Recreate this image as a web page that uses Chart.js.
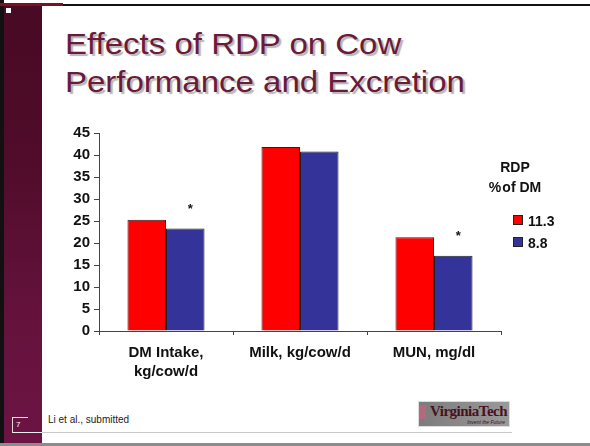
<!DOCTYPE html>
<html>
<head>
<meta charset="utf-8">
<script src="https://cdn.jsdelivr.net/npm/chart.js@4.4.1/dist/chart.umd.min.js"></script>
<style>
  html, body { margin: 0; padding: 0; background: #fff; }
  body { width: 590px; height: 446px; position: relative; overflow: hidden;
         font-family: "Liberation Sans", Arial, sans-serif; }
  .abs { position: absolute; }
  #strip { left: 4px; top: 6px; width: 38px; height: 437px;
           background: linear-gradient(180deg, #480a24 0%, #500c2a 35%, #64123c 70%, #6c1444 100%); }
  #blackEdge { left: 0; top: 0; width: 4px; height: 446px; background: #111; }
  #topLine { left: 0; top: 4px; width: 590px; height: 2px; background: #111; }
  #topRed { left: 0; top: 3px; width: 63px; height: 3px; background: #7a1020; }
  #dot { left: 6px; top: 8px; width: 5px; height: 5px; background: #fff; }
  #bottomLine { left: 0; top: 443px; width: 590px; height: 3px; background: #8c8c8c; }
  #title { left: 65px; top: 25px; font-size: 30px; line-height: 38px; color: #6b1a3a;
           text-shadow: 2px 2px 1px #b5b5b5; white-space: nowrap;
           transform: scaleX(1.1); transform-origin: 0 0; }
  #chartBox { left: 50px; top: 120px; width: 460px; height: 270px; }
  #legTitle { left: 470px; top: 157px; width: 90px; text-align: center; font-weight: bold;
              font-size: 14px; line-height: 20px; color: #111; }
  .legItem { left: 513px; font-weight: bold; font-size: 14px; color: #111; white-space: nowrap; }
  .legItem span { display: inline-block; width: 8px; height: 8px; border: 1px solid #222;
                  margin-right: 5px; vertical-align: 1px; }
  #footLine { left: 42px; top: 432px; width: 470px; height: 1px; background: #c8c8c8; }
  #pageBox { left: 12px; top: 417px; width: 16px; height: 16px; border-top: 1px solid #ddd;
             border-left: 1px solid #ddd; color: #fff; font-size: 8px; padding: 2px 0 0 3px; box-sizing: border-box; }
  #pageLine { left: 12px; top: 432px; width: 30px; height: 1px; background: #eee; }
  #foot { left: 48px; top: 414px; font-size: 10px; color: #222; }
  #logo { left: 418px; top: 401px; width: 92px; height: 26px; border: 1px solid #ddd;
          background: linear-gradient(90deg, #7c7c7c, #9a9a9a); overflow: hidden; box-sizing: border-box; }
  #logo .mark { position: absolute; left: 0; top: 3px; width: 7px; height: 14px; background: #b46a7c; }
  #logo .vt { position: absolute; left: 11px; top: 1px; font-family: "Liberation Serif", serif;
              font-weight: bold; font-size: 15px; color: #4a1020; letter-spacing: -0.5px; }
  #logo .sub { position: absolute; right: 4px; top: 17px; font-size: 5px; font-style: italic; color: #3a1018; }
</style>
</head>
<body>
<div id="strip" class="abs"></div>
<div id="blackEdge" class="abs"></div>
<div id="topLine" class="abs"></div>
<div id="topRed" class="abs"></div>
<div id="dot" class="abs"></div>
<div id="bottomLine" class="abs"></div>

<div id="title" class="abs">Effects of RDP on Cow<br>Performance and Excretion</div>

<div id="chartBox" class="abs"><canvas id="rdpChart"></canvas></div>

<div id="legTitle" class="abs">RDP<br>%&#8202;of DM</div>
<div id="legend"></div>

<div id="footLine" class="abs"></div>
<div id="pageLine" class="abs"></div>
<div id="pageBox" class="abs">7</div>
<div id="foot" class="abs">Li et al., submitted</div>
<div id="logo" class="abs"><div class="mark"></div><div class="vt">VirginiaTech</div><div class="sub">Invent the Future</div></div>

<script>
// Dati
const categories = [['DM Intake,', 'kg/cow/d'], 'Milk, kg/cow/d', 'MUN, mg/dl'];
const seriesNames = ['11.3', '8.8'];
const highRdp = [25.3, 41.8, 21.3];
const lowRdp = [23.3, 40.8, 17.1];
const significant = [true, false, true]; // asterisco sopra la barra 8.8
const yTicks = [0, 5, 10, 15, 20, 25, 30, 35, 40, 45];

const colors = ['#ff0000', '#333399'];
const fontFam = '"Liberation Sans", Arial, sans-serif';

// Legenda in HTML
const legend = document.getElementById('legend');
seriesNames.forEach((name, i) => {
    const d = document.createElement('div');
    d.className = 'abs legItem';
    d.style.top = (213 + i * 22) + 'px';
    d.innerHTML = '<span style="background:' + colors[i] + '"></span>' + name;
    legend.appendChild(d);
});

// Plugin per gli asterischi di significatività
const starPlugin = {
    id: 'stars',
    afterDatasetsDraw(chart) {
        const ctx = chart.ctx;
        const meta = chart.getDatasetMeta(1);
        ctx.save();
        ctx.fillStyle = '#111';
        ctx.font = 'bold 13px ' + fontFam;
        ctx.textAlign = 'center';
        ctx.textBaseline = 'middle';
        meta.data.forEach((bar, i) => {
            if (significant[i]) ctx.fillText('*', bar.x + 5, bar.y - 19);
        });
        ctx.restore();
    }
};

new Chart(document.getElementById('rdpChart'), {
    type: 'bar',
    data: {
        labels: categories,
        datasets: [
            { label: seriesNames[0], data: highRdp, backgroundColor: colors[0], borderColor: '#222', borderWidth: 1 },
            { label: seriesNames[1], data: lowRdp, backgroundColor: colors[1], borderColor: '#222', borderWidth: 1 }
        ]
    },
    options: {
        responsive: true,
        maintainAspectRatio: false,
        animation: false,
        events: [],
        datasets: { bar: { barPercentage: 1, categoryPercentage: 0.575 } },
        layout: { padding: { top: 11, right: 9, left: 0, bottom: 0 } },
        plugins: { legend: { display: false }, tooltip: { enabled: false } },
        scales: {
            y: {
                min: 0, max: 45,
                afterBuildTicks: s => { s.ticks = yTicks.map(v => ({ value: v })); },
                afterFit: s => { s.width = 49; },
                border: { color: '#444', width: 1 },
                grid: { drawOnChartArea: false, tickLength: 5, color: '#444' },
                ticks: { color: '#111', padding: 4, font: { size: 15, weight: 'bold', family: fontFam } }
            },
            x: {
                afterFit: s => { s.height = 59; },
                border: { color: '#444', width: 1 },
                grid: { offset: true, drawOnChartArea: false, tickLength: 4, color: '#444' },
                ticks: { color: '#111', padding: 8, maxRotation: 0,
                         font: { size: 15, weight: 'bold', family: fontFam, lineHeight: 1.3 } }
            }
        }
    },
    plugins: [starPlugin]
});
</script>
</body>
</html>
